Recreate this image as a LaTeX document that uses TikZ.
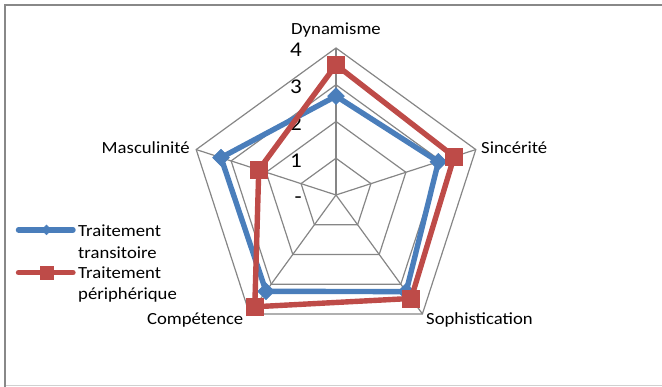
\documentclass[tikz,border=0pt]{standalone}
\usepackage{fontspec}
\setmainfont[FakeStretch=1.1]{Carlito}
\usetikzlibrary{shapes.geometric}
\definecolor{serA}{HTML}{4A7EBB}
\definecolor{serB}{HTML}{BE4B48}
\definecolor{gridc}{HTML}{868686}
\definecolor{framec}{HTML}{888888}
\definecolor{framelight}{HTML}{D0D0D0}
\begin{document}
\begin{tikzpicture}[x=1pt,y=1pt,
  gridline/.style={draw=gridc,line width=1.2pt},
  serline/.style={line width=5.4pt,line join=round},
  bmark/.style={diamond,aspect=1,fill=serA,draw=serA,line width=0.5pt,inner sep=0pt,minimum size=17pt},
  rmark/.style={rectangle,fill=serB,draw=serB,line width=0.5pt,inner sep=0pt,minimum size=17pt},
  bmarksmall/.style={bmark,minimum size=10pt},
  rmarksmall/.style={rmark,minimum size=12.5pt},
  axlabel/.style={inner sep=0pt,font=\fontsize{17}{21}\selectfont},
  ticklabel/.style={inner sep=0pt,anchor=base east,font=\fontsize{21}{25}\selectfont},
  legtext/.style={inner sep=0pt,anchor=base west,font=\fontsize{17}{21}\selectfont},
]
\useasboundingbox (0,0) rectangle (662,387);
% frame
\coordinate (fTL) at (5,382.3);
\coordinate (fTR) at (662,382.3);
\coordinate (fBL) at (5,0);
\coordinate (fB1) at (5,1.3);
\coordinate (fB2) at (662,1.3);
\draw[framelight,line width=1.5pt] (fB1) -- (fB2);
\draw[framec,line width=2pt] (fBL) -- (fTL) -- (fTR);
% radar grid
\coordinate (O) at (336,192);
\foreach \k in {1,...,4}{
  \pgfmathsetmacro\r{36.75*\k}
  \draw[gridline,line join=miter] ([shift={(90:\r)}]O) -- ([shift={(18:\r)}]O) -- ([shift={(-54:\r)}]O) -- ([shift={(-126:\r)}]O) -- ([shift={(162:\r)}]O) -- cycle;
}
\foreach \a/\n in {90/D,18/S,-54/P,-126/C,162/M}{
  \coordinate (\n4) at ([shift={(\a:147)}]O);
  \draw[gridline] (O) -- (\n4);
}
% tick labels
\node[ticklabel] (t0) at (302,183) {-};
\node[ticklabel] (t1) at (302,219.75) {1};
\node[ticklabel] (t2) at (302,256.5) {2};
\node[ticklabel] (t3) at (302,293.25) {3};
\node[ticklabel] (t4) at (302,330) {4};
% axis labels
\node[axlabel,anchor=base] (lD) at (336,352) {Dynamisme};
\node[axlabel,anchor=base west] (lS) at (481,233) {Sincérité};
\node[axlabel,anchor=base west] (lP) at (426,62) {Sophistication};
\node[axlabel,anchor=base east] (lC) at (243.5,62) {Compétence};
\node[axlabel,anchor=base east] (lM) at (190,233) {Masculinité};
% data points
\coordinate (b1) at ([shift={(90:{2.69*36.75})}]O);
\coordinate (b2) at ([shift={(18:{2.93*36.75})}]O);
\coordinate (b3) at ([shift={(-54:{3.25*36.75})}]O);
\coordinate (b4) at ([shift={(-126:{3.24*36.75})}]O);
\coordinate (b5) at ([shift={(162:{3.29*36.75})}]O);
\coordinate (r1) at ([shift={(90:{3.54*36.75})}]O);
\coordinate (r2) at ([shift={(18:{3.38*36.75})}]O);
\coordinate (r3) at ([shift={(-54:{3.48*36.75})}]O);
\coordinate (r4) at ([shift={(-126:{3.76*36.75})}]O);
\coordinate (r5) at ([shift={(162:{2.21*36.75})}]O);
% series 1
\draw[serline,serA] (b1) -- (b2) -- (b3) -- (b4) -- (b5) -- cycle;
\foreach \i in {1,...,5}{ \node[bmark] (bm\i) at (b\i) {}; }
% series 2
\draw[serline,serB] (r1) -- (r2) -- (r3) -- (r4) -- (r5) -- cycle;
\foreach \i in {1,...,5}{ \node[rmark] (rm\i) at (r\i) {}; }
% legend
\coordinate (la1) at (18.5,157);
\coordinate (la2) at (73,157);
\coordinate (lb1) at (18.5,114.3);
\coordinate (lb2) at (73,114.3);
\draw[serA,line width=5.4pt,line cap=round] (la1) -- (la2);
\node[bmarksmall] (lgb) at (46.5,157) {};
\draw[serB,line width=5.4pt,line cap=round] (lb1) -- (lb2);
\node[rmarksmall] (lgr) at (46.5,114.3) {};
\node[legtext] (lt1) at (78,150.5) {Traitement};
\node[legtext] (lt2) at (78,128.7) {transitoire};
\node[legtext] (lt3) at (78,108.5) {Traitement};
\node[legtext] (lt4) at (78,87) {périphérique};
\end{tikzpicture}
\end{document}
